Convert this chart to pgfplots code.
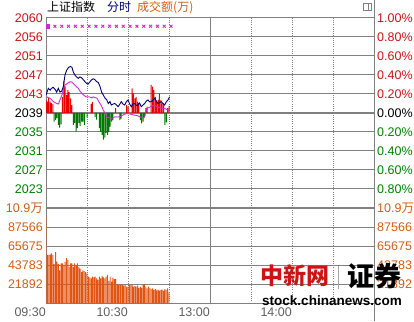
\documentclass[border=0pt]{standalone}
\usepackage{fontspec}
\setmainfont{Liberation Sans}
\newfontfamily\cjk{Noto Sans CJK SC}
\usepackage{pgfplots}
\pgfplotsset{compat=1.18}
\definecolor{cred}{RGB}{200,20,20}
\definecolor{cgreen}{RGB}{0,128,0}
\definecolor{corange}{RGB}{205,95,25}
\definecolor{cgrid}{RGB}{128,128,128}
\definecolor{cnavy}{RGB}{0,0,110}
\definecolor{cmag}{RGB}{210,40,210}
\definecolor{cbar}{RGB}{225,85,20}
\definecolor{cup}{RGB}{235,0,0}
\definecolor{cdown}{RGB}{0,120,0}
\definecolor{cxlab}{RGB}{95,95,95}
\definecolor{wmred}{RGB}{205,20,20}
\pgfplotsset{
  mybase/.style={scale only axis, width=328pt, xmin=0, xmax=240,
    axis line style={cgrid, line width=1pt},
    major tick length=0pt, minor tick length=0pt,
    tick label style={font=\fontsize{12.5}{14}\selectfont},
    scaled y ticks=false,
    xtick={0,30,60,90,120,150,180,210},
    xmajorgrids, ymajorgrids,
    x grid style={cgrid, line width=0.8pt, dash pattern=on 1pt off 1.2pt},
    y grid style={cgrid, line width=1pt},
  },
  topaxis/.style={mybase, at={(46pt,113pt)}, anchor=south west, height=190pt, ymin=-1, ymax=1,
    ytick={-0.8,-0.6,-0.4,-0.2,0,0.2,0.4,0.6,0.8,1}},
  botaxis/.style={mybase, at={(46pt,17.5pt)}, anchor=south west, height=95.5pt, ymin=0, ymax=109457.5,
    ytick={21892,43783,65675,87566,109457.5}},
}
\begin{document}
\begin{tikzpicture}[x=1pt,y=1pt]
\path[use as bounding box] (0,0) rectangle (414,321);
% ---------- price panel ----------
\begin{axis}[topaxis, xticklabels={},
  yticklabels={{\color{cgreen}2023},{\color{cgreen}2027},{\color{cgreen}2031},{\color{cgreen}2035},{\color{black}2039},{\color{cred}2043},{\color{cred}2047},{\color{cred}2051},{\color{cred}2056},{\color{cred}2060}},
  yticklabel style={inner sep=0pt, xshift=-3pt, anchor=east}]
\draw[cgrid, line width=1pt] (axis cs:120,-1) -- (axis cs:120,1);
\draw[cgrid, line width=2.5pt] (axis cs:0,0) -- (axis cs:240,0);
\addplot[ybar, bar width=1pt, bar shift=0pt, fill=cup, draw=none] coordinates {
(0,0.137)(1,0.12)(2,0.158)(3,0.12)(4,0.105)(5,0.095)
(12,0.17)(13,0.34)(14,0.28)(15,0.19)(16,0.24)(17,0.22)(18,0.155)(19,0.084)
(33,0.095)(34,0.116)(51,0.05)
(59,0.084)(60,0.066)(63,0.26)(64,0.207)(65,0.155)(66,0.17)(67,0.12)(68,0.105)
(73,0.05)(74,0.066)(77,0.295)(78,0.277)(79,0.24)(80,0.17)(81,0.12)(82,0.137)(83,0.207)(84,0.137)(85,0.10)(86,0.10)
(89,0.05)(90,0.074)};
\addplot[ybar, bar width=1pt, bar shift=0pt, fill=cdown, draw=none] coordinates {
(6,-0.09)(7,-0.074)(8,-0.053)(9,-0.126)(10,-0.155)(11,-0.12)
(20,-0.126)(21,-0.105)(22,-0.197)(23,-0.16)(24,-0.105)(25,-0.137)(26,-0.09)(27,-0.09)(28,-0.126)(30,-0.05)
(36,-0.04)(37,-0.07)(39,-0.16)(40,-0.2)(41,-0.23)(42,-0.28)(43,-0.26)(44,-0.21)(45,-0.23)(46,-0.2)(47,-0.144)(48,-0.09)(49,-0.074)
(54,-0.074)(55,-0.06)(69,-0.074)(70,-0.11)(71,-0.09)(72,-0.05)(87,-0.126)(88,-0.10)};
\addplot[cmag, line width=0.9pt, no markers] coordinates {
(0.5,0.17)(2.9,0.155)(5.3,0.12)(7.8,0.10)(9.1,0.095)(10.2,0.137)(11.7,0.19)(12.7,0.25)(13.9,0.295)(15.1,0.305)(16.5,0.32)(17.9,0.33)(19,0.325)(20,0.31)(21.7,0.285)(23.6,0.26)(24.9,0.23)(26.1,0.21)(27.8,0.185)(29.3,0.17)(30.7,0.17)(32.2,0.168)(33.7,0.158)(34.6,0.17)(35.8,0.163)(37.5,0.155)(38.3,0.126)(39.5,0.10)(40.7,0.074)(41.9,0.03)(43.2,0.0)(44.4,-0.04)(45.6,-0.047)(48,-0.056)(50.5,-0.04)(51.9,-0.042)(54.1,-0.04)(56.5,-0.02)(59,-0.005)(61.4,-0.01)(63.9,-0.02)(66.4,-0.026)(68.8,-0.04)(71.2,-0.053)(72.4,-0.03)(73.7,0.047)(76.1,0.063)(78.5,0.08)(80.5,0.074)(81.9,0.063)(83.4,0.058)(84.9,0.047)(87.1,0.047)(89.5,0.03)(90.7,0.03)};
\addplot[cnavy, line width=0.9pt, no markers] coordinates {
(0,0.19)(1.7,0.26)(3,0.24)(4,0.26)(5.3,0.27)(6.6,0.25)(7.8,0.22)(9,0.26)(10.2,0.22)(11.5,0.23)(12.7,0.28)(13.9,0.40)(15.1,0.45)(16.5,0.48)(17.9,0.49)(19,0.48)(20,0.43)(21.2,0.40)(22.3,0.38)(23.6,0.365)(24.9,0.38)(26.1,0.37)(27.3,0.35)(28.5,0.33)(29.8,0.31)(30.9,0.305)(32.2,0.33)(33.4,0.35)(34.6,0.36)(35.8,0.35)(37.1,0.33)(38.3,0.32)(39.5,0.28)(40.7,0.22)(41.9,0.19)(43.2,0.155)(44.4,0.14)(45.6,0.10)(46.8,0.12)(47.8,0.084)(49.2,0.095)(50.3,0.10)(51.7,0.084)(52.7,0.066)(54.1,0.095)(55.1,0.12)(56.3,0.095)(57.6,0.084)(58.7,0.116)(60,0.137)(61.2,0.095)(62.4,0.066)(63.6,0.095)(64.9,0.10)(66.1,0.08)(67.3,0.084)(68.5,0.105)(69.7,0.066)(71,0.084)(72.2,0.10)(73.4,0.126)(74.6,0.137)(75.9,0.116)(77,0.12)(78.3,0.137)(79.5,0.155)(80.7,0.126)(81.9,0.10)(83.2,0.11)(84.3,0.12)(85.6,0.10)(86.8,0.084)(88,0.116)(89.2,0.137)(90.5,0.17)};
\addplot[only marks, mark=square*, mark size=1.6pt, cmag] coordinates {(1.5,0.913)};
\addplot[only marks, mark=x, mark size=2pt, cmag, line width=0.9pt] coordinates {
(1.5,0.913)(6.5,0.913)(11.5,0.913)(16.5,0.913)(21.5,0.913)(26.5,0.913)(31.5,0.913)(36.5,0.913)(41.5,0.913)(46.5,0.913)(51.5,0.913)(56.5,0.913)(61.5,0.913)(66.5,0.913)(71.5,0.913)(76.5,0.913)(81.5,0.913)(86.5,0.913)(91.5,0.913)};
\end{axis}
\begin{axis}[topaxis, axis y line*=right, hide x axis, xmajorgrids=false, ymajorgrids=false,
  yticklabels={{\color{cgreen}0.80\%},{\color{cgreen}0.60\%},{\color{cgreen}0.40\%},{\color{cgreen}0.20\%},{\color{black}0.00\%},{\color{cred}0.20\%},{\color{cred}0.40\%},{\color{cred}0.60\%},{\color{cred}0.80\%},{\color{cred}1.00\%}},
  yticklabel style={inner sep=0pt, xshift=3pt, anchor=west}]
\end{axis}
% ---------- volume panel ----------
\begin{axis}[botaxis,
  xticklabels={09:30,,10:30,,13:00,,14:00,},
  xticklabel style={anchor=north east, inner sep=0pt, yshift=-4.5pt, text=cxlab},
  yticklabels={21892,43783,65675,87566,{10.9{\cjk 万}}},
  yticklabel style={inner sep=0pt, xshift=-3pt, anchor=east, text=corange}]
\draw[cgrid, line width=1pt] (axis cs:120,0) -- (axis cs:120,109457.5);
\addplot[ybar, bar width=0.95pt, bar shift=0pt, fill=cbar, draw=none] coordinates {
(0,100600)(1,55600)(2,55600)(3,56000)(4,57500)(5,55600)(6,45000)(7,59000)(8,48000)(9,45000)
(10,38000)(11,46000)(12,46000)(13,44000)(14,48000)(15,52000)(16,50000)(17,42000)(18,46000)(19,46000)
(20,42000)(21,46000)(22,44000)(23,46000)(24,42000)(25,40000)(26,36000)(27,38000)(28,37000)(29,36000)
(30,34600)(31,30700)(32,30000)(33,28900)(34,30700)(35,30000)(36,30700)(37,28900)(38,27000)(39,30700)
(40,28900)(41,31500)(42,30000)(43,28900)(44,30700)(45,32700)(46,25800)(47,30700)(48,25000)(49,29600)
(50,28000)(51,28300)(52,22000)(53,22000)(54,21000)(55,21000)(56,21000)(57,20400)(58,21000)(59,19300)
(60,19300)(61,21000)(62,22000)(63,21000)(64,19300)(65,19800)(66,19300)(67,20400)(68,18000)(69,19300)
(70,18000)(71,21000)(72,22000)(73,19300)(74,17400)(75,19300)(76,18000)(77,16600)(78,17400)(79,15500)
(80,16600)(81,15000)(82,16000)(83,14900)(84,15500)(85,16000)(86,14900)(87,16600)(88,15500)(89,17400)
(90,12500)};
\end{axis}
\begin{axis}[botaxis, axis y line*=right, hide x axis, xmajorgrids=false, ymajorgrids=false,
  yticklabels={21892,43783,65675,87566,{10.9{\cjk 万}}},
  yticklabel style={inner sep=0pt, xshift=3pt, anchor=west, text=corange}]
\end{axis}
% thick separator and right border
\draw[cgrid, line width=2.5pt] (46,113) -- (374,113);
\draw[cgrid, line width=1pt] (374,0) -- (374,321);
% title
\node[anchor=base west, inner sep=0pt, font=\cjk\fontsize{12}{14}\selectfont] at (47,309) {上证指数};
\node[anchor=base west, inner sep=0pt, text=cnavy, font=\cjk\fontsize{12}{14}\selectfont] at (107,309) {分时};
\node[anchor=base west, inner sep=0pt, text=corange, font=\cjk\fontsize{12}{14}\selectfont] at (137,309) {成交额(万)};
% small icon
\draw[cgrid, line width=0.8pt] (363.5,310.5) rectangle (371.5,317.5);
\draw[cgrid, line width=0.8pt] (368.5,310.5) -- (368.5,317.5);
% watermark
\node[inner sep=0pt, text=wmred, font=\cjk\bfseries\fontsize{23}{23}\selectfont] at (295,45) {中新网};
\draw[gray!70, line width=1pt] (338,55) -- (338,32);
\node[inner sep=0pt, font=\cjk\bfseries\fontsize{27}{27}\selectfont] at (374.5,45) {证券};
\node[inner sep=0pt, font=\bfseries\fontsize{13.5}{14}\selectfont] at (332,20) {stock.chinanews.com};
\end{tikzpicture}
\end{document}
